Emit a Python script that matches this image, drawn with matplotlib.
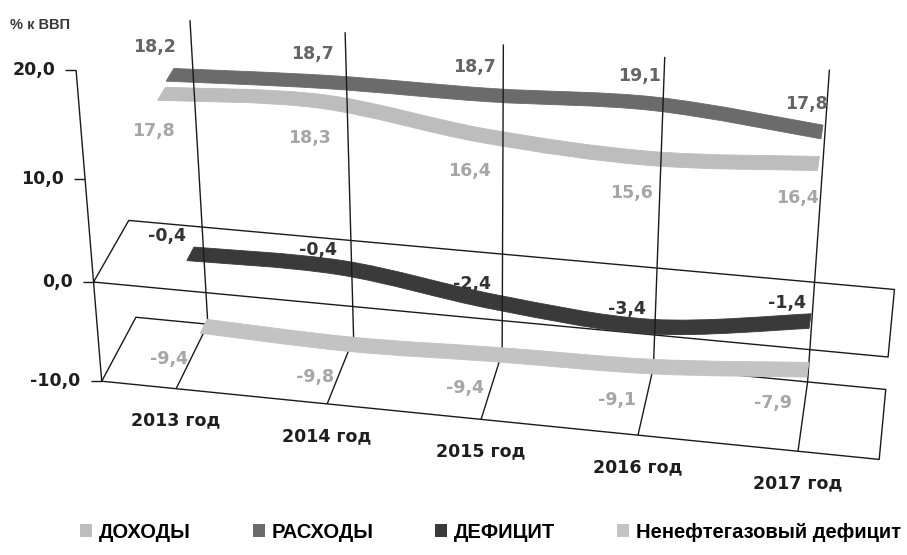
import numpy as np
import matplotlib
matplotlib.use('Agg')
import matplotlib.pyplot as plt
from matplotlib.path import Path
from matplotlib.patches import PathPatch, Patch

plt.rcParams['font.family'] = ['Liberation Sans', 'DejaVu Sans']

# data, % of GDP
years = ['2013 год', '2014 год', '2015 год', '2016 год', '2017 год']
dohody = [17.8, 18.3, 16.4, 15.6, 16.4]
rashody = [18.2, 18.7, 18.7, 19.1, 17.8]
deficit = [-0.4, -0.4, -2.4, -3.4, -1.4]
nonoil = [-9.4, -9.8, -9.4, -9.1, -7.9]
names = ['ДОХОДЫ', 'РАСХОДЫ', 'ДЕФИЦИТ', 'Ненефтегазовый дефицит']
yticks = [20, 10, 0, -10]
ytick_labels = ['20,0', '10,0', '0,0', '-10,0']
unit = '% к ВВП'

# perspective view: (category, value, depth 0=front..1=back) -> pixels
P = np.array([[1.510851e+02, -1.039011e+00, 4.032166e+01, 1.695438e+02],
              [1.160691e+01, -1.078180e+01, -5.349176e+01, 2.892325e+02],
              [-9.672601e-03, -2.148233e-03, 3.827398e-02, 1.0]])


def proj(c, v, d):
    c = np.atleast_1d(np.asarray(c, float))
    v = np.atleast_1d(np.asarray(v, float))
    d = np.atleast_1d(np.asarray(d, float))
    c, v, d = np.broadcast_arrays(c, v, d)
    h = P @ np.vstack([c, v, d, np.ones_like(c)])
    return h[0] / h[2], h[1] / h[2]


def bezier_ctrl(vals):
    # excel-like smoothed line: cubic segments, tangents from neighbours
    n = len(vals)
    pts = [(float(i), float(v)) for i, v in enumerate(vals)]
    out = [pts[0]]
    for i in range(n - 1):
        p0 = pts[max(i - 1, 0)]
        p1, p2 = pts[i], pts[i + 1]
        p3 = pts[min(i + 2, n - 1)]
        out.append((p1[0] + (p2[0] - p0[0]) / 6, p1[1] + (p2[1] - p0[1]) / 6))
        out.append((p2[0] - (p3[0] - p1[0]) / 6, p2[1] - (p3[1] - p1[1]) / 6))
        out.append(p2)
    return np.array(out)


fig = plt.figure(figsize=(9.07, 5.55), dpi=100)
ax = fig.add_axes([0, 0, 1, 1])
ax.set_xlim(0, 907)
ax.set_ylim(555, 0)
ax.axis('off')

grid_kw = dict(color='#1a1a1a', lw=1.0, solid_capstyle='butt')
num_font = dict(family=['DejaVu Sans'], fontsize=12.5, fontweight='bold')
cats = np.arange(len(years))
c_lo, c_hi = -0.5, len(years) - 0.5

# horizontal planes at 0 and -10
for lev in [0, -10]:
    x, y = proj([c_lo, c_hi, c_hi, c_lo, c_lo], lev, [0, 0, 1, 1, 0])
    ax.plot(x, y, zorder=1, **grid_kw)

# floor category lines
for c in cats:
    x, y = proj(c, -10, [0, 1])
    ax.plot(x, y, zorder=1, **grid_kw)

# category lines on the back wall
for c in cats:
    x, y = proj(c, [-10, 20], 1)
    ax.plot(x, y, zorder=3, **grid_kw)

# value axis at the front-left edge
x, y = proj(c_lo, [-10, 20], 0)
ax.plot(x, y, zorder=3, **grid_kw)
for v, lab in zip(yticks, ytick_labels):
    x, y = proj(c_lo, v, 0)
    ax.plot([x[0] - 11, x[0]], [y[0], y[0]], zorder=3, **grid_kw)
    ax.text(x[0] - 21, y[0], lab, ha='right', va='center', color='#1e1e1e',
            **num_font)
ax.text(10, 25, unit, ha='left', va='center', fontsize=10.5, fontweight='bold',
        color='#3a3a3a')

# category labels
for c, lab in zip(cats, years):
    x, y = proj(c, -10, 0)
    ax.text(x[0], y[0] + 32, lab, ha='center', va='center', color='#1e1e1e',
            **num_font)

# series ribbons: values, depth slot, colour, label colour,
# label anchor depth, label offset (px), z
series = [
    (dohody, 0.125, '#bdbdbd', '#a6a6a6', 0.625, (-4, -66), 2.6),
    (rashody, 0.375, '#6b6b6b', '#656565', 0.375, (6, 28), 2.5),
    (deficit, 0.625, '#3a3a3a', '#333333', 0.625, (-4, 18), 2.4),
    (nonoil, 0.875, '#c3c3c3', '#a6a6a6', 0.875, (-16, -33), 3.5),
]
half = 0.11
for vals, dc, col, lcol, dl, off, z in series:
    cv = bezier_ctrl(vals)
    fx, fy = proj(cv[:, 0], cv[:, 1], dc - half)
    bx, by = proj(cv[::-1, 0], cv[::-1, 1], dc + half)
    verts = np.r_[np.c_[fx, fy], np.c_[bx, by], [[fx[0], fy[0]]]]
    nseg = len(vals) - 1
    codes = ([Path.MOVETO] + [Path.CURVE4] * (3 * nseg) + [Path.LINETO]
             + [Path.CURVE4] * (3 * nseg) + [Path.CLOSEPOLY])
    ax.add_patch(PathPatch(Path(verts, codes), fc=col, ec=col, lw=0.6,
                           zorder=z))
    for c, v in zip(cats, vals):
        x, y = proj(c, v, dl)
        ax.annotate(f'{v:.1f}'.replace('.', ','), (x[0], y[0]),
                    xytext=off, textcoords='offset pixels', ha='right',
                    va='center', color=lcol, zorder=5, **num_font)

handles = [Patch(fc=s[2], ec='none') for s in series]
fig.legend(handles, names, loc='center', bbox_to_anchor=(0.541, 0.041),
           ncol=4, frameon=False, handlelength=0.6, handleheight=0.6,
           handletextpad=0.35, columnspacing=3.05,
           prop={'size': 14.5, 'weight': 'bold'})

fig.savefig('out.png', dpi=100)
